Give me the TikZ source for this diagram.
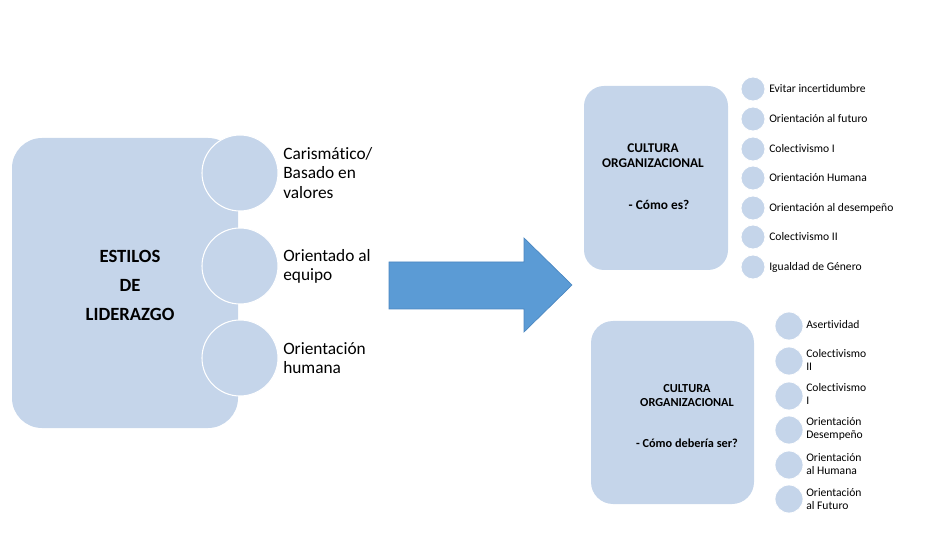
\documentclass[tikz,border=0pt]{standalone}
\usepackage{fontspec}
\setmainfont[Ligatures=NoCommon]{Carlito}
\definecolor{lb}{HTML}{C5D5EA}
\definecolor{arrowblue}{HTML}{5B9BD5}
\definecolor{arrowedge}{HTML}{4A86C0}
\begin{document}
\begin{tikzpicture}[x=0.75pt,y=-0.75pt,
  panel/.style={fill=lb,draw=none},
  bigdot/.style={circle,fill=lb,draw=white,line width=0.8pt,minimum size=76*0.75pt,inner sep=0},
  dotA/.style={circle,fill=lb,draw=white,line width=0.6pt,minimum size=24*0.75pt,inner sep=0},
  dotB/.style={circle,fill=lb,draw=white,line width=0.6pt,minimum size=28*0.75pt,inner sep=0},
  bigtxt/.style={anchor=west,align=left,inner sep=0,font=\fontsize{13}{14.3}\selectfont},
  smalltxt/.style={anchor=west,align=left,inner sep=0,font=\fontsize{8.7}{9.8}\selectfont},
  title/.style={inner sep=0,font=\bfseries\fontsize{14}{16}\selectfont},
  subtitleA/.style={inner sep=0,font=\bfseries\fontsize{10}{11}\selectfont},
  subtitleB/.style={inner sep=0,font=\bfseries\fontsize{9.2}{10.5}\selectfont}]
\useasboundingbox (0,0) rectangle (932,538);
% left panel
\fill[panel,rounded corners=30*0.75pt] (12,138) rectangle (238,428);
\node[bigdot] (c1) at (240,173) {};
\node[bigdot] (c2) at (240,266) {};
\node[bigdot] (c3) at (240,358) {};
\node[bigtxt] (t1) at (283,173) {Carismático/\\Basado en\\valores};
\node[bigtxt] (t2) at (283,266) {Orientado al\\equipo};
\node[bigtxt] (t3) at (283,358) {Orientación\\humana};
\node[title] (e1) at (130,256) {ESTILOS};
\node[title] (e2) at (130,285) {DE};
\node[title] (e3) at (130,314) {LIDERAZGO};
% arrow
\filldraw[fill=arrowblue,draw=arrowedge,line width=0.5pt]
  (389,262) -- (524,262) -- (524,238) -- (572,285) -- (524,332) -- (524,309) -- (389,309) -- cycle;
% top right panel
\fill[panel,rounded corners=20*0.75pt] (584,86) rectangle (728,270);
\node[subtitleA] (u1) at (653,148) {CULTURA};
\node[subtitleA] (u2) at (653,163) {ORGANIZACIONAL};
\node[subtitleA] (u3) at (659,205) {- Cómo es?};
\foreach \y/\t [count=\i] in {89/Evitar incertidumbre,119/Orientación al futuro,149/Colectivismo I,178/Orientación Humana,208/Orientación al desempeño,237/Colectivismo II,267/Igualdad de Género}{
  \node[dotA] (a\i) at (753,\y) {};
  \node[smalltxt] (at\i) at (769,\y) {\t};
}
% bottom right panel
\fill[panel,rounded corners=22*0.75pt] (591,321) rectangle (754,504);
\node[subtitleB] (v1) at (687,389) {CULTURA};
\node[subtitleB] (v2) at (687,403) {ORGANIZACIONAL};
\node[subtitleB] (v3) at (687,443) {- Cómo debería ser?};
\node[dotB] (b1) at (789,326) {};
\node[dotB] (b2) at (789,361) {};
\node[dotB] (b3) at (789,396) {};
\node[dotB] (b4) at (789,430) {};
\node[dotB] (b5) at (789,465) {};
\node[dotB] (b6) at (789,499) {};
\node[smalltxt] (bt1) at (806,325) {Asertividad};
\node[smalltxt] (bt2) at (806,360) {Colectivismo\\II};
\node[smalltxt] (bt3) at (806,394) {Colectivismo\\I};
\node[smalltxt] (bt4) at (806,429) {Orientación\\Desempeño};
\node[smalltxt] (bt5) at (806,464) {Orientación\\al Humana};
\node[smalltxt] (bt6) at (806,499) {Orientación\\al Futuro};
\end{tikzpicture}
\end{document}
